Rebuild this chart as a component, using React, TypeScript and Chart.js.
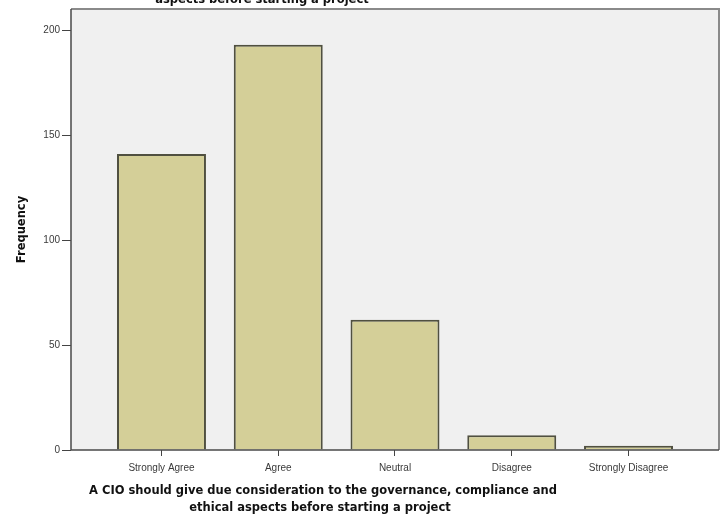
import React, { useEffect, useRef } from "react";
import { Chart, registerables } from "chart.js";

Chart.register(...registerables);

const CATEGORIES = ["Strongly Agree", "Agree", "Neutral", "Disagree", "Strongly Disagree"];
const FREQUENCIES = [141, 193, 62, 7, 2];
const Y_TICKS = [0, 50, 100, 150, 200];
const Y_TITLE = "Frequency";
const X_TITLE_LINES = [
  "A CIO should give due consideration to the governance, compliance and",
  "ethical aspects before starting a project",
];
const TOP_TITLE = "aspects before starting a project";

const TICK_FONT = { family: "'Liberation Sans', Arial, sans-serif", size: 10 };
const TITLE_FONT = "bold 11.5px 'DejaVu Sans', Verdana, sans-serif";

export default function App() {
  const ref = useRef<HTMLCanvasElement>(null);

  useEffect(() => {
    if (!ref.current) return;

    const framePlugin = {
      id: "frame",
      beforeDraw(chart: any) {
        const { ctx, chartArea: a } = chart;
        ctx.save();
        ctx.fillStyle = "#ffffff";
        ctx.fillRect(0, 0, chart.width, chart.height);
        ctx.fillStyle = "#f0f0f0";
        ctx.fillRect(a.left, a.top, a.right - a.left, a.bottom - a.top);
        ctx.restore();
      },
      afterDatasetsDraw(chart: any) {
        const { ctx, chartArea: a } = chart;
        ctx.save();
        ctx.strokeStyle = "#8a8a8a";
        ctx.lineWidth = 2;
        ctx.beginPath();
        ctx.moveTo(a.left, a.top);
        ctx.lineTo(a.right, a.top);
        ctx.lineTo(a.right, a.bottom);
        ctx.stroke();
        ctx.strokeStyle = "#4a4a4a";
        ctx.lineWidth = 1.5;
        ctx.beginPath();
        ctx.moveTo(a.left, a.top);
        ctx.lineTo(a.left, a.bottom);
        ctx.lineTo(a.right, a.bottom);
        ctx.stroke();
        ctx.restore();
      },
      afterDraw(chart: any) {
        const { ctx, chartArea: a } = chart;
        ctx.save();
        ctx.fillStyle = "#111111";
        ctx.font = TITLE_FONT;
        ctx.textAlign = "center";
        ctx.textBaseline = "middle";
        ctx.fillText(X_TITLE_LINES[0], 323, 491);
        ctx.fillText(X_TITLE_LINES[1], 320, 508);
        ctx.textBaseline = "alphabetic";
        ctx.fillText(TOP_TITLE, 262, 3);
        ctx.textBaseline = "middle";
        ctx.translate(22, (a.top + a.bottom) / 2);
        ctx.rotate(-Math.PI / 2);
        ctx.fillText(Y_TITLE, 0, 0);
        ctx.restore();
      },
    };

    const chart = new Chart(ref.current, {
      type: "bar",
      data: {
        datasets: [
          {
            data: FREQUENCIES.map((y, i) => ({ x: i, y })),
            backgroundColor: "#d4cf98",
            borderColor: "#505040",
            borderWidth: 2,
            barPercentage: 0.762,
            categoryPercentage: 1,
          },
        ],
      },
      options: {
        responsive: false,
        animation: false,
        layout: { padding: { left: 0, right: 7, top: 9, bottom: 0 } },
        plugins: {
          legend: { display: false },
          tooltip: { enabled: false },
          title: { display: false },
        },
        scales: {
          x: {
            type: "linear",
            offset: false,
            min: -0.775,
            max: 4.775,
            afterBuildTicks: (s: any) => {
              s.ticks = CATEGORIES.map((_, i) => ({ value: i }));
            },
            afterFit: (s: any) => {
              s.height = 71;
              s.paddingLeft = 0;
              s.paddingRight = 0;
            },
            ticks: {
              callback: (v: any) => CATEGORIES[v] ?? "",
              autoSkip: false,
              maxRotation: 0,
              padding: 6,
              color: "#3a3a3a",
              font: TICK_FONT,
            },
            grid: {
              offset: false,
              drawOnChartArea: false,
              drawTicks: true,
              tickLength: 6,
              color: "#444444",
            },
            border: { display: false },
          },
          y: {
            min: 0,
            max: 210,
            afterBuildTicks: (s: any) => {
              s.ticks = Y_TICKS.map((v) => ({ value: v }));
            },
            afterFit: (s: any) => {
              s.width = 71;
              s.paddingTop = 0;
              s.paddingBottom = 0;
            },
            ticks: { padding: 2, color: "#3a3a3a", font: TICK_FONT },
            grid: { drawOnChartArea: false, drawTicks: true, tickLength: 9, color: "#444444" },
            border: { display: false },
          },
        },
      },
      plugins: [framePlugin],
    } as any);

    return () => chart.destroy();
  }, []);

  return (
    <canvas
      ref={ref}
      width={726}
      height={521}
      style={{ position: "fixed", left: 0, top: 0, width: 726, height: 521 }}
    />
  );
}
